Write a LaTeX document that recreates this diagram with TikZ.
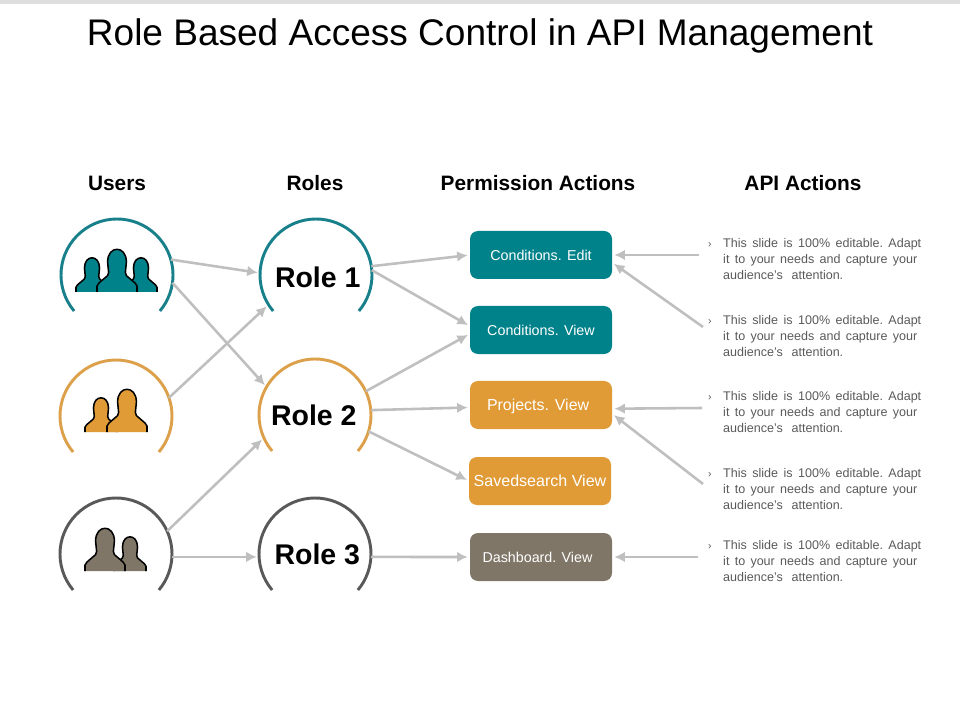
\documentclass[tikz,border=0pt]{standalone}
\usepackage{fontspec}
\setmainfont{Liberation Sans}
\usetikzlibrary{arrows.meta}
\definecolor{tealc}{HTML}{00828A}
\definecolor{orangec}{HTML}{E09A36}
\definecolor{greyc}{HTML}{7F7668}
\definecolor{tealline}{HTML}{17808A}
\definecolor{orangeline}{HTML}{DDA04A}
\definecolor{greyline}{HTML}{595959}
\definecolor{arrowc}{HTML}{BFBFBF}
\definecolor{bodyc}{HTML}{595959}
\newcommand{\slidetext}{\leavevmode\llap{\small ›\hspace{10pt}}\hbox to 5.94cm{This\hfill slide\hfill is\hfill 100\%\hfill editable.\hfill Adapt}\\\leavevmode\hbox to 5.82cm{it\hfill to\hfill your\hfill needs\hfill and\hfill capture\hfill your}\\\leavevmode\hbox to 3.6cm{audience's\hfill attention.}}
\newcommand{\personline}{(-1,0) -- (-1,.3) .. controls (-.98,.38) .. (-.9,.45) -- (-.47,.82)
      .. controls (-.42,.88) .. (-.42,.98) -- (-.47,1.5) .. controls (-.47,2.35) and (.47,2.35) .. (.47,1.5)
      -- (.42,.98) .. controls (.42,.88) .. (.47,.82) -- (.9,.45) .. controls (.98,.38) .. (1,.3) -- (1,0)}
\tikzset{
  person/.pic={
    \fill[pic actions,draw=none] \personline -- cycle;
    \draw[draw=black,line width=1.3pt,line join=round] \personline;
  },
  ring/.style={circle,minimum size=3.36cm,inner sep=0pt,outer sep=0pt,font=\fontsize{24.3}{24}\selectfont\bfseries},
  arcline/.style={line width=2.5pt},
  actionbox/.style={rounded corners=.24cm,minimum width=4.26cm,minimum height=1.44cm,inner sep=0pt,outer sep=0pt,text=white,text height=12pt,text depth=3pt,font=\fontsize{12.2}{12}\selectfont},
  header/.style={anchor=base,font=\fontsize{17.8}{17.8}\selectfont\bfseries},
  bodytext/.style={text=bodyc,align=left,inner sep=0pt,anchor=west,text width=5.94cm,font=\fontsize{10.7}{13.6}\selectfont},
  flow/.style={draw=arrowc,line width=2.2pt,shorten >=2pt,-{Latex[length=9pt,width=9pt]}}
}
\begin{document}
\begin{tikzpicture}[x=0.03cm,y=0.03cm]
\useasboundingbox (0,0) rectangle (960,720);
% Top strip
\fill[black!13] (0,716) rectangle (960,720);
% Title
\node[font=\fontsize{31.6}{32}\selectfont] (title) at (480,684) {Role Based Access Control in API Management};
% Headers
\node[header] (husers) at (117,529) {Users};
\node[header] (hroles) at (315,529) {Roles};
\node[header] (hperm) at (538,529) {Permission Actions};
\node[header] (hapi) at (803,529) {API Actions};
% Users
\node[ring] (u1) at (117,445) {};
\node[ring] (u2) at (116,304) {};
\node[ring] (u3) at (116,166) {};
\draw[arcline,tealline] (u1.220) arc (220:-40:56);
\draw[arcline,orangeline] (u2.220) arc (220:-40:56);
\draw[arcline,greyline] (u3.220) arc (220:-40:56);
% Roles
\node[ring] (r1) at (316,445) {\kern3pt\raisebox{-1.7pt}[\height][\depth]{Role 1}};
\node[ring] (r2) at (315,305) {Role 2\kern2pt};
\node[ring] (r3) at (315,166) {\kern4pt Role 3};
\draw[arcline,tealline] (r1.220) arc (220:-40:56);
\draw[arcline,orangeline] (r2.220) arc (220:-40:56);
\draw[arcline,greyline] (r3.220) arc (220:-40:56);
% Figures
\pic[fill=tealc,scale=16] at (92,428) {person};
\pic[fill=tealc,scale=16] at (141,428) {person};
\pic[fill=tealc,scale=20] at (117,428) {person};
\pic[fill=orangec,scale=16] at (101,288) {person};
\pic[fill=orangec,scale=20] at (127,288) {person};
\pic[fill=greyc,scale=16] at (130,149) {person};
\pic[fill=greyc,scale=20] at (105,149) {person};
% Boxes
\node[actionbox,fill=tealc] (b1) at (541,465) {Conditions. Edit};
\node[actionbox,fill=tealc] (b2) at (541,390) {Conditions. View};
\node[actionbox,fill=orangec,font=\fontsize{13.6}{14}\selectfont] (b3) at (541,315) {Projects. View\kern5pt};
\node[actionbox,fill=orangec,font=\fontsize{13.7}{14}\selectfont] (b4) at (540,239) {Savedsearch View};
\node[actionbox,fill=greyc] (b5) at (541,163) {Dashboard. View\kern6pt};
% Text
\node[bodytext] (t1) at (723,461) {\slidetext};
\node[bodytext] (t2) at (723,384) {\slidetext};
\node[bodytext] (t3) at (723,308) {\slidetext};
\node[bodytext] (t4) at (723,231) {\slidetext};
\node[bodytext] (t5) at (723,159) {\slidetext};
% Free ends
\coordinate (q1) at (699,465);
\coordinate (q2) at (703,393);
\coordinate (q3) at (702,312);
\coordinate (q4) at (703,236);
\coordinate (q5) at (698,163);
% Arrows
\draw[flow] (u1.16) -- (r1.178);
\draw[flow] (u1.-8) -- (r2.150);
\draw[flow] (u2.19) -- (r1.212);
\draw[flow] (u3.24) -- (r2.204);
\draw[flow] (u3.-3) -- (r3.183);
\draw[flow] (r1.9) -- (b1.west);
\draw[flow] (r1.5) -- (b2.177);
\draw[flow] (r2.25) -- (b2.183);
\draw[flow] (r2.5) -- (b3.182);
\draw[flow] (r2.-17) -- (b4.west);
\draw[flow] (r3.-3) -- (b5.west);
\draw[flow] (q1) -- (b1.east);
\draw[flow] (q2) -- (b1.-6);
\draw[flow] (q3) -- (b3.-3);
\draw[flow] (q4) -- (b3.-7);
\draw[flow] (q5) -- (b5.east);
\end{tikzpicture}
\end{document}
